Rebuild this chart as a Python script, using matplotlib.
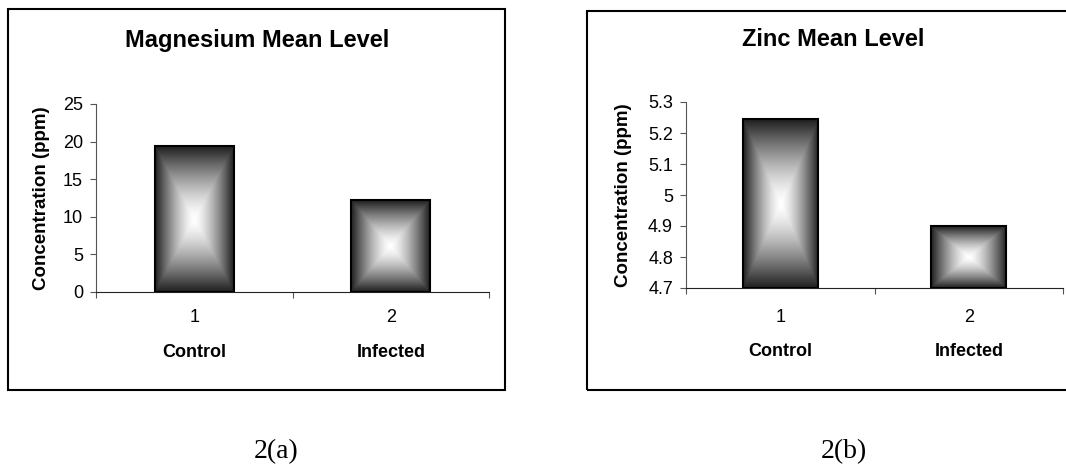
import numpy as np
import matplotlib.pyplot as plt
from matplotlib.patches import Rectangle
from matplotlib.transforms import blended_transform_factory

plt.rcParams['font.family'] = ['Liberation Sans', 'DejaVu Sans']

# data
categories = ['Control', 'Infected']
positions = [1, 2]
tick_names = ['1', '2']
magnesium = [19.4, 12.2]
zinc = [5.245, 4.9]

mg_ticks = [0, 5, 10, 15, 20, 25]
mg_ticklabels = ['0', '5', '10', '15', '20', '25']
zn_ticks = [4.7, 4.8, 4.9, 5.0, 5.1, 5.2, 5.3]
zn_ticklabels = ['4.7', '4.8', '4.9', '5', '5.1', '5.2', '5.3']


def gradient_bars(ax, values, base, top):
    # Excel style "from center" gradient: white middle, dark edges
    bars = ax.bar(positions, np.array(values) - base, bottom=base, width=0.4,
                  color='none', edgecolor='black', linewidth=1.5, zorder=3)
    n = 300
    u = np.linspace(-1, 1, n)
    U, V = np.meshgrid(u, u)
    t = np.maximum(np.abs(U), np.abs(V))
    img = 1 - 0.88 * t ** 1.4
    for b in bars:
        x, y = b.get_x(), b.get_y()
        w, h = b.get_width(), b.get_height()
        im = ax.imshow(img, cmap='gray', vmin=0, vmax=1, aspect='auto',
                       extent=[x, x + w, y, y + h], zorder=2,
                       interpolation='bilinear')
        im.set_clip_path(b)
    ax.set_xlim(0.5, 2.5)
    ax.set_ylim(base, top)


def style_axes(ax, ticks, ticklabels, title, title_x, ylab_x, num_y, cat_y):
    for s in ['top', 'right']:
        ax.spines[s].set_visible(False)
    ax.spines['left'].set_color('#555555')
    ax.spines['bottom'].set_color('#222222')
    ax.set_yticks(ticks)
    ax.set_yticklabels(ticklabels, fontsize=13)
    ax.tick_params(axis='y', length=4.3, color='#555555', pad=5)
    ax.set_xticks([0.5, 1.5, 2.5])
    ax.set_xticklabels([])
    ax.tick_params(axis='x', length=4.3, color='#555555')
    ax.set_ylabel('Concentration (ppm)', fontsize=13.5, fontweight='bold')
    ax.yaxis.set_label_coords(ylab_x, 0.5)
    tr = blended_transform_factory(ax.transData, ax.transAxes)
    for p, nm, cat in zip(positions, tick_names, categories):
        ax.text(p, num_y, nm, transform=tr, ha='center', va='center', fontsize=13)
        ax.text(p, cat_y, cat, transform=tr, ha='center', va='center',
                fontsize=13, fontweight='bold')
    ax.figure.text(title_x, 1 - 40 / 467, title, ha='center', va='center',
                   fontsize=17, fontweight='bold')


fig = plt.figure(figsize=(10.66, 4.67), dpi=100)

# outer frames of the two charts
fig.patches.append(Rectangle((8 / 1066, 1 - 390 / 467), 497 / 1066, 381 / 467,
                             transform=fig.transFigure, fill=False,
                             edgecolor='black', linewidth=1.5))
fig.patches.append(Rectangle((587 / 1066, 1 - 390 / 467), 520 / 1066, 379 / 467,
                             transform=fig.transFigure, fill=False,
                             edgecolor='black', linewidth=1.5))

ax1 = fig.add_axes([96 / 1066, 1 - 292 / 467, 393 / 1066, 188 / 467])
ax1.patch.set_alpha(0)
gradient_bars(ax1, magnesium, 0, 25)
style_axes(ax1, mg_ticks, mg_ticklabels, 'Magnesium Mean Level', 257 / 1066,
           -0.117, -0.138, -0.324)

ax2 = fig.add_axes([686 / 1066, 1 - 288 / 467, 377 / 1066, 186 / 467])
ax2.patch.set_alpha(0)
gradient_bars(ax2, zinc, 4.7, 5.3)
style_axes(ax2, zn_ticks, zn_ticklabels, 'Zinc Mean Level', 833 / 1066,
           -0.143, -0.156, -0.344)

fig.text(276 / 1066, 1 - 452 / 467, '2(a)', ha='center', va='center',
         fontsize=20, family=['Liberation Serif', 'DejaVu Serif'])
fig.text(844 / 1066, 1 - 452 / 467, '2(b)', ha='center', va='center',
         fontsize=20, family=['Liberation Serif', 'DejaVu Serif'])

fig.savefig('out.png', dpi=100)
